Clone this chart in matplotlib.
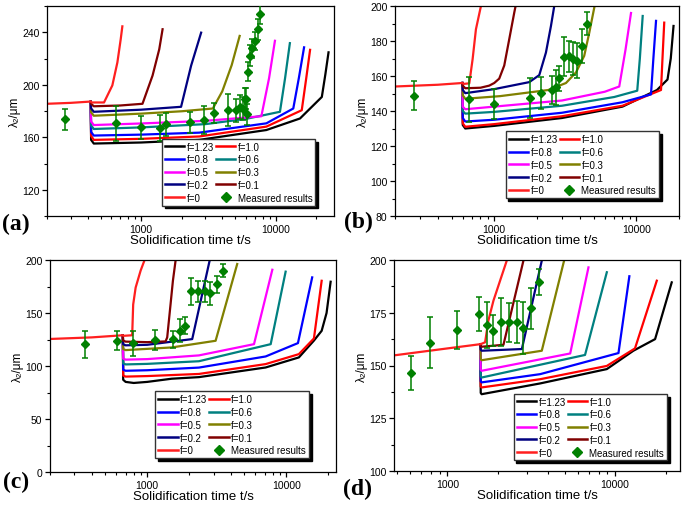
import matplotlib
matplotlib.use("Agg")
import matplotlib.pyplot as plt
from matplotlib.lines import Line2D
from matplotlib.ticker import LogLocator, MultipleLocator, NullFormatter, FixedLocator, FixedFormatter

plt.rcParams['font.family'] = ['Liberation Sans', 'DejaVu Sans']

# curve order: f=1.23, 1.0, 0.8, 0.6, 0.5, 0.3, 0.2, 0.1, 0
F_LABELS = ['f=1.23', 'f=1.0', 'f=0.8', 'f=0.6', 'f=0.5', 'f=0.3', 'f=0.2', 'f=0.1', 'f=0']
F_COLORS = ['#000000', '#ff0000', '#0000ff', '#008080', '#ff00ff',
            '#808000', '#000080', '#800000', '#ff1f1f']

# ---------------- panel (a) ----------------
a_t = [
    [422, 425, 445, 1000, 2700, 8500, 15100, 21930, 23300, 24590],
    [422, 425, 445, 1000, 2700, 8500, 15560, 16800, 17940],
    [422, 425, 445, 1000, 2700, 8500, 13460, 14800, 16190],
    [422, 425, 445, 1000, 3000, 6000, 10720, 11700, 12700],
    [422, 425, 445, 1000, 3000, 7800, 8900, 9840],
    [422, 425, 445, 1000, 2000, 3405, 4000, 4700, 5384],
    [422, 425, 445, 1000, 1978, 2349, 2787],
    [422, 425, 445, 700, 1023, 1215, 1362, 1442],
    [200, 300, 422, 430, 530, 611, 666, 705, 725],
]
a_l = [
    [187, 158, 155.2, 156, 158, 165.5, 174.3, 190.7, 208, 224.7],
    [187, 161, 158, 158.8, 160.6, 168.1, 180.6, 205, 226.6],
    [187, 164, 161.3, 162, 163.5, 170.6, 181.9, 205, 228.5],
    [187, 169, 166.3, 167.5, 170, 174, 179.4, 205, 231.7],
    [187, 172, 169.3, 170.5, 172.5, 176, 205, 233.5],
    [187, 179, 176.4, 178, 179.8, 181.9, 195, 215, 237.2],
    [187, 182, 179.4, 181, 183.2, 214.6, 239.7],
    [187, 185.5, 183.6, 184.2, 185.5, 207, 227, 242.3],
    [185.5, 186.2, 187.2, 186.5, 186.5, 199.5, 217, 234.7, 244.5],
]
a_meas_t = [274, 655, 1005, 1386, 1528, 2306, 2950, 3467, 4406, 5090, 5440, 5700,
            5870, 6040, 6150, 6215, 6470, 6600, 6970, 7380, 7600]
a_meas_l = [173.6, 170.6, 167.5, 166.8, 169.8, 171.3, 173.1, 178.6, 180.4, 180.4, 183.2, 181.9,
            188.9, 189.5, 177.5, 210, 222.1, 227.7, 233.5, 242.3, 253.6]
a_meas_e = [8.2, 13.2, 8.6, 10, 8.8, 8.2, 10.7, 7.4, 12.2, 8.8, 9, 9,
            9, 8, 8, 7, 8, 7, 7, 8, 7]

# ---------------- panel (b) ----------------
b_t = [
    [596, 600, 625, 1000, 3000, 8000, 14000, 16600, 17500, 18300],
    [596, 600, 625, 1000, 3000, 8000, 14940, 15300, 15740],
    [596, 600, 625, 1000, 3000, 8000, 12700, 13200, 13780],
    [596, 600, 625, 1000, 3000, 7000, 10160, 10600, 11100],
    [596, 600, 625, 1000, 3000, 6000, 7590, 8400, 9185],
    [596, 600, 625, 1100, 2400, 3200, 3760, 4300, 4670, 5060],
    [596, 600, 625, 1000, 1764, 2075, 2312, 2508, 2646],
    [596, 600, 625, 800, 922, 1000, 1084, 1176, 1275, 1383, 1430],
    [200, 400, 596, 610, 667, 704, 743, 806],
]
b_l = [
    [156, 132, 130, 131.5, 136, 142.5, 152, 158, 170, 188.6],
    [156, 133, 131, 132.5, 137, 143, 152, 170, 190.5],
    [156, 136, 134, 135, 139, 145, 149.5, 170, 191.5],
    [156, 140, 138.5, 139.5, 143, 148, 151.6, 170, 194.3],
    [156, 142.5, 141, 142.5, 146, 151, 154, 175, 196],
    [156, 149, 147, 148.5, 152, 156, 162, 171.5, 184.8, 199],
    [156, 152, 150.2, 152.5, 156.5, 160.5, 173.4, 188.6, 200],
    [156, 154.5, 153, 153.3, 154.5, 156, 158.5, 166, 181, 196.2, 202],
    [154, 155, 156, 155.5, 155.8, 169.6, 186.7, 200],
]
b_meas_t = [274, 659, 1000, 1794, 2132, 2547, 2717, 2869, 3077, 3336, 3600, 3800, 4145, 4500]
b_meas_l = [148.7, 146.8, 144, 147.4, 150.3, 152, 153.5, 158.6, 171, 171.2, 170, 168.7, 177.2, 190]
b_meas_e = [8.2, 12.8, 8.5, 11.4, 8.9, 8, 10, 7, 11.2, 9, 9.5, 10, 9.5, 6.6]

# ---------------- panel (c) ----------------
c_t = [
    [668, 672, 700, 800, 1000, 1500, 2355, 7110, 12330, 15820, 17980, 19500, 20860],
    [668, 672, 700, 1000, 2355, 7110, 12330, 15820, 17980],
    [668, 672, 700, 1000, 2355, 7110, 12140, 15370],
    [668, 672, 700, 1000, 2355, 7730, 9900],
    [668, 672, 700, 1000, 2355, 5864, 7943],
    [668, 672, 700, 1500, 3105, 4440],
    [668, 672, 700, 1000, 2108, 2812],
    [668, 672, 700, 1000, 1356, 1393, 1473, 1531, 1600],
    [200, 400, 668, 680, 780, 793, 826, 897, 958],
]
c_l = [
    [129, 87, 85, 84, 85, 88, 89.5, 98.6, 108.1, 124, 133.2, 150, 179.5],
    [129, 91, 90, 90.5, 92.5, 101.8, 111.2, 126, 180.4],
    [129, 96.5, 95.5, 96, 98.5, 109, 121.6, 183.6],
    [129, 102.5, 101.5, 102, 104.5, 120.6, 189],
    [129, 107, 106, 106.5, 110, 120.6, 190.8],
    [129, 116, 115, 117.5, 123.8, 196.2],
    [129, 120.5, 119.5, 120, 125.4, 199.4],
    [129, 124, 123, 122.5, 123.2, 127, 158.4, 180.4, 199.4],
    [125.5, 127, 129, 128.5, 129, 158, 174, 190, 200],
]
c_meas_t = [356, 608, 789, 1136, 1531, 1719, 1866, 2073, 2329, 2603, 2812, 3157, 3524]
c_meas_l = [120.6, 123.8, 121.3, 124.7, 125.4, 133.2, 138, 170.4, 170.4, 170.4, 168.5, 177.3, 189.9]
c_meas_e = [12.6, 9, 12, 9.5, 8, 11, 8, 12.6, 10, 10, 11, 8, 6]

# ---------------- panel (d) ----------------
d_t = [
    [1570, 1580, 1600, 3574, 8930, 12860, 17330, 21780],
    [1570, 1580, 1600, 3574, 8930, 13150, 17740],
    [1570, 1580, 1600, 3574, 10480, 12170],
    [1570, 1580, 1600, 6620, 8930],
    [1570, 1580, 1600, 5400, 6940],
    [1570, 1580, 1600, 3655, 4965],
    [1570, 1580, 1600, 2780, 3655],
    [1570, 1580, 1600, 2159, 2840],
    [480, 1000, 1570, 1600, 1678, 1754, 1881, 2061, 2259],
]
d_l = [
    [160.1, 137, 136.4, 141.5, 148.3, 157, 162.5, 189.4],
    [160.1, 140, 139.6, 143.5, 149.8, 158.1, 190.2],
    [160.1, 142.5, 142, 145.9, 155.9, 192.3],
    [160.1, 144.8, 144.3, 155, 194.2],
    [160.1, 148, 147.5, 155.7, 196.5],
    [160.1, 153, 152.5, 157, 199.7],
    [160.1, 157.5, 157, 157.8, 199.7],
    [160.1, 159.2, 158.9, 159.8, 199.7],
    [154.8, 158.1, 160.1, 160.3, 161, 171.2, 180.7, 190.2, 199.7],
]
d_meas_t = [608, 789, 1137, 1553, 1718, 1865, 2090, 2333, 2594, 2818, 3158, 3508]
d_meas_l = [146.4, 160.9, 166.8, 174.4, 169.2, 166.4, 170.7, 170.4, 170.7, 167.6, 177.1, 189.4]
d_meas_e = [8.1, 12, 9, 8, 11, 7.3, 11.4, 9.3, 10, 12.3, 9.6, 6.2]


def draw_panel(ax, ts, ls, mt, ml, me, xlim, ylim, ystep, leg_anchor):
    for t, l, c in zip(ts, ls, F_COLORS):
        ax.plot(t, l, color=c, lw=1.6, solid_joinstyle='round', zorder=2)
    ax.errorbar(mt, ml, yerr=me, fmt='D', color='#008000', ms=4.5, elinewidth=1.1,
                capsize=2.3, capthick=1.1, zorder=4)
    ax.set_xscale('log')
    ax.set_xlim(*xlim)
    ax.set_ylim(*ylim)
    ax.xaxis.set_major_locator(FixedLocator([1000, 10000]))
    ax.xaxis.set_major_formatter(FixedFormatter(['1000', '10000']))
    ax.xaxis.set_minor_locator(LogLocator(base=10, subs=range(2, 10), numticks=20))
    ax.xaxis.set_minor_formatter(NullFormatter())
    ax.yaxis.set_major_locator(MultipleLocator(ystep))
    ax.yaxis.set_minor_locator(MultipleLocator(ystep / 2))
    ax.tick_params(which='major', direction='out', length=3.5, width=0.9, labelsize=7.5, pad=2)
    ax.tick_params(which='minor', direction='out', length=2, width=0.8)
    for s in ax.spines.values():
        s.set_linewidth(0.9)
    ax.set_xlabel('Solidification time t/s', fontsize=9.5, labelpad=0.5)
    ax.set_ylabel('λ₂/μm', fontsize=8.5, labelpad=1)

    handles = [Line2D([], [], color=c, lw=1.8) for c in F_COLORS]
    labels = list(F_LABELS)
    handles.append(Line2D([], [], color='#008000', marker='D', ms=5, ls='none'))
    labels.append('Measured results')
    order = [0, 2, 4, 6, 8, 1, 3, 5, 7, 9]
    ax.legend([handles[i] for i in order], [labels[i] for i in order], ncol=2,
              loc='lower right', bbox_to_anchor=leg_anchor, fontsize=7.0,
              frameon=True, fancybox=False, edgecolor='#333333',
              shadow={'color': 'black', 'alpha': 1.0}, framealpha=1,
              handlelength=2.0, handletextpad=0.25, columnspacing=0.2,
              labelspacing=0.28, borderpad=0.3, borderaxespad=0, numpoints=1)


fig = plt.figure(figsize=(6.85, 5.06), dpi=100)
W, H = 685.0, 506.0


def add_axes(l, r, t, b):
    return fig.add_axes([l / W, 1 - b / H, (r - l) / W, (b - t) / H])


ax_a = add_axes(47, 334, 7, 217)
ax_b = add_axes(395, 679, 7, 217)
ax_c = add_axes(50, 336, 261, 473)
ax_d = add_axes(394, 680, 261, 472)

draw_panel(ax_a, a_t, a_l, a_meas_t, a_meas_l, a_meas_e, (200, 27000), (100, 260), 40, (0.935, 0.05))
draw_panel(ax_b, b_t, b_l, b_meas_t, b_meas_l, b_meas_e, (200, 20000), (80, 200), 20, (0.93, 0.085))
draw_panel(ax_c, c_t, c_l, c_meas_t, c_meas_l, c_meas_e, (200, 22800), (0, 200), 50, (0.905, 0.065))
draw_panel(ax_d, d_t, d_l, d_meas_t, d_meas_l, d_meas_e, (480, 24400), (100, 200), 25, (0.955, 0.05))

for tag, x, y in [('(a)', 2, 224), ('(b)', 344, 222), ('(c)', 3, 482), ('(d)', 343, 489)]:
    fig.text(x / W, 1 - y / H, tag, fontsize=17, fontweight='bold',
             family=['Liberation Serif', 'DejaVu Serif'], ha='left', va='center')

fig.savefig('out.png', dpi=100)
